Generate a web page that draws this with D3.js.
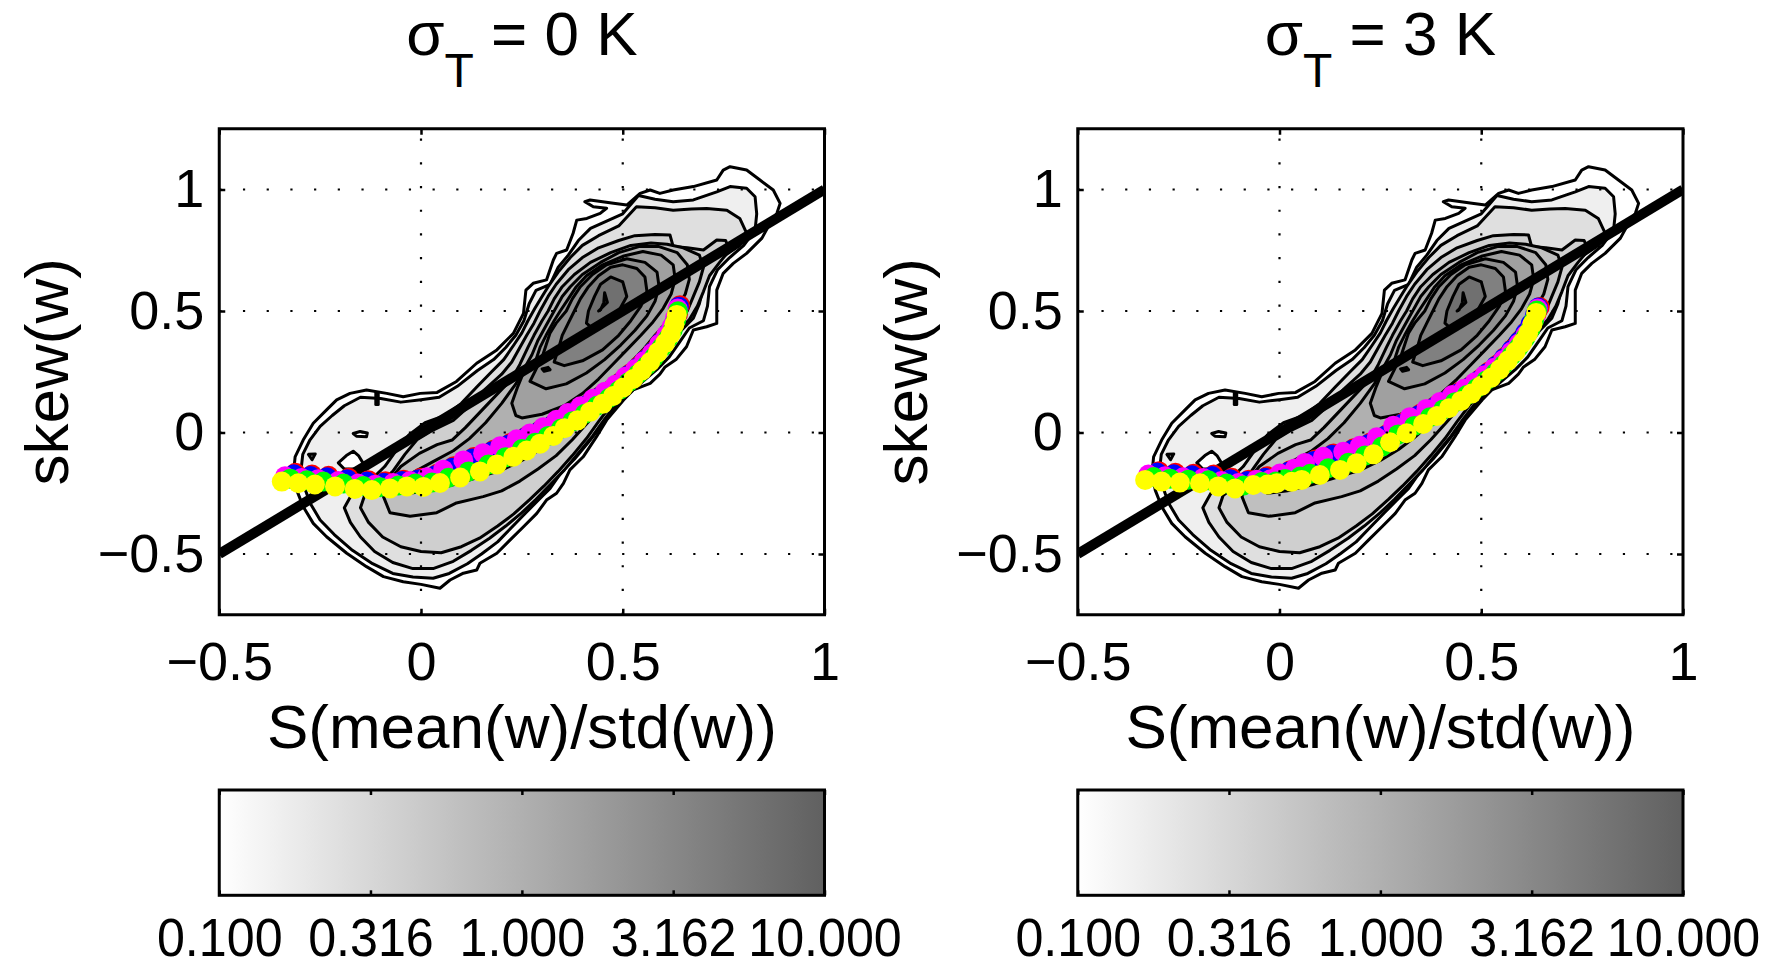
<!DOCTYPE html>
<html lang="en">
<head>
<meta charset="UTF-8">
<title>skew(w) vs S(mean(w)/std(w))</title>
<script src="https://d3js.org/d3.v7.min.js"></script>
<style>
  body { margin: 0; background: #fff; }
  svg { display: block; }
</style>
</head>
<body>
<script>
// ---- axes / labels ----
const xTicks = [-0.5, 0, 0.5, 1];
const xTickLabels = ["\u22120.5", "0", "0.5", "1"];
const yTicks = [-0.5, 0, 0.5, 1];
const yTickLabels = ["\u22120.5", "0", "0.5", "1"];
const cbTicks = [0.1, 0.316, 1, 3.162, 10];
const cbTickLabels = ["0.100", "0.316", "1.000", "3.162", "10.000"];
const panelTitles = ["0", "3"];

// reference line skew = S
const refLine = [[-0.5, -0.5], [1, 1]];

// ---- filled contour levels (log10 density) and their outlines ----
const levels = [-1, -0.8, -0.6, -0.4, -0.2, 0, 0.2, 0.4, 0.6, 0.8];

const c1 = [[0.766,1.094],[0.807,1.080],[0.840,1.039],[0.873,0.998],[0.890,0.943],[0.882,0.902],[0.865,0.861],[0.845,0.800],[0.807,0.737],[0.774,0.696],[0.749,0.655],[0.733,0.586],[0.733,0.518],[0.733,0.449],[0.708,0.435],[0.675,0.422],[0.658,0.353],[0.632,0.300],[0.605,0.270],[0.592,0.240],[0.568,0.202],[0.526,0.175],[0.502,0.134],[0.460,0.051],[0.435,-0.017],[0.402,-0.100],[0.369,-0.154],[0.353,-0.209],[0.336,-0.250],[0.311,-0.278],[0.287,-0.333],[0.254,-0.388],[0.221,-0.442],[0.188,-0.497],[0.146,-0.538],[0.138,-0.566],[0.105,-0.579],[0.072,-0.607],[0.047,-0.641],[0.000,-0.625],[-0.044,-0.614],[-0.093,-0.593],[-0.135,-0.552],[-0.184,-0.497],[-0.234,-0.429],[-0.267,-0.374],[-0.292,-0.305],[-0.308,-0.237],[-0.316,-0.168],[-0.312,-0.100],[-0.292,-0.031],[-0.267,0.038],[-0.234,0.093],[-0.209,0.134],[-0.176,0.161],[-0.135,0.175],[-0.085,0.161],[-0.044,0.147],[-0.002,0.161],[0.040,0.165],[0.088,0.210],[0.138,0.285],[0.188,0.340],[0.229,0.408],[0.254,0.490],[0.260,0.586],[0.278,0.614],[0.311,0.628],[0.328,0.710],[0.336,0.737],[0.361,0.751],[0.377,0.820],[0.386,0.874],[0.411,0.881],[0.444,0.902],[0.460,0.923],[0.427,0.929],[0.406,0.950],[0.419,0.957],[0.477,0.943],[0.510,0.936],[0.543,0.984],[0.568,0.998],[0.592,0.984],[0.625,0.998],[0.675,1.012],[0.733,1.039],[0.749,1.080]];
const c2 = [[0.766,1.012],[0.807,1.005],[0.828,0.970],[0.832,0.900],[0.828,0.833],[0.800,0.770],[0.765,0.720],[0.735,0.670],[0.715,0.600],[0.710,0.520],[0.700,0.460],[0.665,0.430],[0.640,0.370],[0.615,0.310],[0.585,0.260],[0.550,0.210],[0.515,0.160],[0.480,0.100],[0.450,0.035],[0.415,-0.040],[0.380,-0.110],[0.345,-0.170],[0.320,-0.230],[0.290,-0.280],[0.260,-0.330],[0.225,-0.390],[0.190,-0.450],[0.150,-0.500],[0.115,-0.540],[0.070,-0.580],[0.030,-0.600],[-0.020,-0.595],[-0.070,-0.580],[-0.120,-0.540],[-0.170,-0.485],[-0.215,-0.420],[-0.250,-0.360],[-0.275,-0.290],[-0.290,-0.220],[-0.297,-0.150],[-0.293,-0.090],[-0.275,-0.030],[-0.250,0.025],[-0.220,0.070],[-0.190,0.110],[-0.150,0.145],[-0.100,0.140],[-0.050,0.125],[0.000,0.135],[0.045,0.145],[0.090,0.190],[0.140,0.255],[0.180,0.300],[0.210,0.350],[0.235,0.400],[0.255,0.460],[0.268,0.530],[0.285,0.585],[0.320,0.610],[0.340,0.680],[0.365,0.730],[0.390,0.790],[0.420,0.840],[0.460,0.870],[0.500,0.900],[0.539,0.975],[0.580,0.960],[0.625,0.950],[0.675,0.957],[0.733,0.990]];
const c3 = [[0.758,0.915],[0.790,0.881],[0.807,0.820],[0.790,0.770],[0.750,0.725],[0.720,0.670],[0.700,0.600],[0.690,0.530],[0.675,0.470],[0.645,0.420],[0.620,0.360],[0.590,0.300],[0.555,0.245],[0.520,0.185],[0.485,0.120],[0.455,0.055],[0.425,-0.015],[0.390,-0.085],[0.355,-0.155],[0.320,-0.215],[0.285,-0.275],[0.250,-0.330],[0.210,-0.385],[0.170,-0.435],[0.125,-0.485],[0.080,-0.530],[0.030,-0.560],[-0.020,-0.560],[-0.070,-0.535],[-0.115,-0.490],[-0.150,-0.430],[-0.175,-0.370],[-0.190,-0.310],[-0.170,-0.250],[-0.130,-0.205],[-0.090,-0.140],[-0.060,-0.070],[-0.030,-0.010],[0.010,0.040],[0.060,0.070],[0.100,0.120],[0.140,0.190],[0.175,0.250],[0.205,0.300],[0.230,0.360],[0.250,0.410],[0.265,0.460],[0.282,0.510],[0.300,0.560],[0.315,0.600],[0.340,0.660],[0.370,0.720],[0.400,0.770],[0.440,0.810],[0.490,0.850],[0.534,0.929],[0.580,0.925],[0.625,0.915],[0.670,0.920],[0.708,0.922]];
const c4 = [[0.700,0.751],[0.733,0.792],[0.755,0.790],[0.765,0.750],[0.740,0.700],[0.715,0.645],[0.700,0.580],[0.685,0.520],[0.665,0.465],[0.635,0.410],[0.605,0.350],[0.575,0.290],[0.540,0.235],[0.505,0.175],[0.470,0.110],[0.440,0.045],[0.410,-0.025],[0.375,-0.095],[0.340,-0.160],[0.305,-0.220],[0.270,-0.275],[0.230,-0.335],[0.190,-0.385],[0.145,-0.435],[0.100,-0.470],[0.050,-0.495],[0.000,-0.490],[-0.050,-0.470],[-0.095,-0.430],[-0.130,-0.370],[-0.150,-0.310],[-0.140,-0.260],[-0.110,-0.220],[-0.070,-0.160],[-0.040,-0.090],[-0.010,-0.030],[0.030,0.010],[0.080,0.050],[0.120,0.110],[0.160,0.180],[0.200,0.240],[0.225,0.290],[0.245,0.350],[0.262,0.400],[0.280,0.450],[0.295,0.500],[0.315,0.560],[0.335,0.610],[0.365,0.670],[0.400,0.720],[0.440,0.760],[0.490,0.790],[0.530,0.810],[0.580,0.815],[0.617,0.813],[0.625,0.765],[0.660,0.760]];
const c5 = [[0.650,0.760],[0.690,0.730],[0.700,0.680],[0.690,0.620],[0.675,0.560],[0.660,0.500],[0.640,0.450],[0.610,0.395],[0.580,0.335],[0.550,0.280],[0.515,0.220],[0.480,0.160],[0.445,0.100],[0.410,0.035],[0.375,-0.030],[0.335,-0.095],[0.290,-0.150],[0.245,-0.200],[0.200,-0.240],[0.154,-0.264],[0.088,-0.290],[0.039,-0.330],[-0.027,-0.345],[-0.077,-0.330],[-0.093,-0.264],[-0.075,-0.190],[-0.050,-0.140],[-0.004,-0.086],[0.040,-0.050],[0.077,-0.031],[0.110,0.020],[0.150,0.090],[0.190,0.160],[0.225,0.220],[0.245,0.280],[0.265,0.350],[0.280,0.400],[0.300,0.460],[0.315,0.500],[0.330,0.550],[0.350,0.600],[0.380,0.650],[0.420,0.700],[0.470,0.740],[0.520,0.770],[0.570,0.780],[0.610,0.775]];
const c6 = [[0.590,0.765],[0.635,0.740],[0.660,0.690],[0.665,0.630],[0.655,0.570],[0.635,0.510],[0.610,0.455],[0.580,0.400],[0.550,0.340],[0.515,0.280],[0.480,0.220],[0.445,0.160],[0.410,0.100],[0.375,0.040],[0.335,-0.020],[0.295,-0.070],[0.250,-0.115],[0.200,-0.155],[0.140,-0.185],[0.080,-0.215],[0.020,-0.240],[-0.030,-0.250],[-0.050,-0.210],[-0.020,-0.165],[0.030,-0.120],[0.080,-0.075],[0.120,-0.025],[0.160,0.040],[0.200,0.120],[0.235,0.200],[0.255,0.260],[0.275,0.320],[0.290,0.380],[0.310,0.440],[0.330,0.500],[0.350,0.560],[0.370,0.600],[0.400,0.650],[0.445,0.700],[0.490,0.740],[0.540,0.765]];
const c7 = [[0.550,0.745],[0.595,0.730],[0.625,0.690],[0.630,0.630],[0.620,0.570],[0.600,0.510],[0.575,0.455],[0.545,0.400],[0.510,0.340],[0.475,0.280],[0.440,0.220],[0.400,0.160],[0.355,0.110],[0.300,0.075],[0.250,0.060],[0.235,0.070],[0.225,0.120],[0.240,0.190],[0.255,0.250],[0.285,0.300],[0.295,0.350],[0.310,0.400],[0.330,0.460],[0.345,0.500],[0.365,0.550],[0.385,0.600],[0.410,0.645],[0.450,0.690],[0.500,0.725]];
const c8 = [[0.510,0.715],[0.555,0.700],[0.585,0.660],[0.590,0.600],[0.580,0.540],[0.560,0.480],[0.530,0.420],[0.495,0.360],[0.455,0.300],[0.410,0.245],[0.360,0.200],[0.310,0.180],[0.270,0.210],[0.285,0.260],[0.300,0.310],[0.310,0.360],[0.320,0.410],[0.335,0.450],[0.360,0.500],[0.375,0.550],[0.395,0.600],[0.425,0.650],[0.460,0.690]];
const c9 = [[0.500,0.690],[0.535,0.675],[0.555,0.640],[0.560,0.580],[0.545,0.520],[0.520,0.460],[0.490,0.400],[0.450,0.340],[0.400,0.295],[0.355,0.275],[0.330,0.290],[0.340,0.340],[0.350,0.400],[0.365,0.450],[0.380,0.500],[0.395,0.550],[0.415,0.600],[0.440,0.645],[0.470,0.680]];
const c10 = [[0.470,0.640],[0.500,0.620],[0.510,0.560],[0.490,0.500],[0.460,0.450],[0.430,0.420],[0.410,0.450],[0.415,0.500],[0.430,0.560],[0.445,0.610]];
const contourOutlines = [c1, c2, c3, c4, c5, c6, c7, c8, c9, c10];

// small closed contours (islands) and the level they fill with
const islands = [
  { level: -1, pts: [[-0.205,-0.125],[-0.185,-0.095],[-0.168,-0.077],[-0.155,-0.095],[-0.142,-0.130],[-0.160,-0.150],[-0.190,-0.150]] },
  { level: -1, pts: [[-0.168,-0.004],[-0.151,0.004],[-0.133,-0.002],[-0.135,-0.017],[-0.160,-0.015]] },
  { level: -1, pts: [[-0.279,-0.090],[-0.262,-0.088],[-0.270,-0.112]] },
  { level: -0.8, pts: [[-0.112,0.165],[-0.106,0.165],[-0.106,0.115],[-0.112,0.115]] },
  { level: 0.4, pts: [[0.300,0.262],[0.315,0.268],[0.320,0.258],[0.305,0.252]] },
  { level: 0.8, pts: [[0.455,0.575],[0.462,0.535],[0.440,0.500],[0.445,0.505],[0.453,0.535]] }
];

// ---- binned curves, sigma_T = 0 K ----
const yellowX0 = [-0.345,-0.304,-0.263,-0.213,-0.164,-0.122,-0.077,-0.035,0.006,0.047,0.097,0.146,0.188,0.229,0.262,0.295,0.328,0.356,0.388,0.419,0.450,0.476,0.501,0.526,0.548,0.568,0.587,0.605,0.619,0.628,0.634];
const yellowY0 = [-0.202,-0.209,-0.214,-0.222,-0.232,-0.237,-0.230,-0.222,-0.224,-0.208,-0.185,-0.160,-0.132,-0.100,-0.074,-0.046,-0.014,0.018,0.050,0.085,0.118,0.150,0.185,0.220,0.255,0.290,0.330,0.368,0.405,0.445,0.484];
const greenX0 = [-0.324,-0.283,-0.242,-0.192,-0.143,-0.101,-0.056,-0.014,0.027,0.068,0.118,0.167,0.209,0.250,0.283,0.315,0.347,0.375,0.406,0.436,0.466,0.490,0.514,0.538,0.559,0.578,0.596,0.612,0.624,0.632,0.637];
const greenY0 = [-0.190,-0.197,-0.202,-0.210,-0.220,-0.225,-0.218,-0.210,-0.206,-0.186,-0.160,-0.132,-0.102,-0.068,-0.042,-0.014,0.016,0.046,0.077,0.110,0.142,0.173,0.207,0.241,0.275,0.310,0.349,0.386,0.422,0.461,0.499];
const magentaX0 = [-0.337,-0.296,-0.255,-0.205,-0.156,-0.114,-0.069,-0.027,0.014,0.055,0.105,0.154,0.196,0.237,0.270,0.303,0.336,0.364,0.395,0.426,0.456,0.482,0.506,0.531,0.552,0.572,0.590,0.607,0.621,0.630,0.636];
const magentaY0 = [-0.180,-0.187,-0.192,-0.200,-0.210,-0.215,-0.208,-0.200,-0.184,-0.153,-0.115,-0.085,-0.057,-0.028,-0.004,0.022,0.052,0.080,0.108,0.139,0.168,0.197,0.229,0.261,0.293,0.326,0.364,0.400,0.435,0.473,0.510];
const blueX0 = [-0.315,-0.274,-0.233,-0.183,-0.134,-0.092,-0.047,-0.005,0.036,0.077,0.127,0.176,0.218,0.259,0.292,0.325,0.358,0.384,0.414,0.443,0.472,0.494,0.515,0.538,0.558,0.577,0.595,0.612,0.625,0.634,0.639];
const blueY0 = [-0.172,-0.179,-0.184,-0.192,-0.202,-0.207,-0.200,-0.192,-0.176,-0.145,-0.107,-0.077,-0.049,-0.020,0.004,0.030,0.060,0.088,0.116,0.147,0.176,0.205,0.237,0.269,0.301,0.334,0.372,0.408,0.443,0.481,0.518];
const redX0 = [-0.311,-0.270,-0.229,-0.179,-0.130,-0.088,-0.043,-0.001,0.040,0.081,0.131,0.180,0.222,0.263,0.296,0.329,0.362,0.388,0.418,0.447,0.476,0.497,0.518,0.541,0.561,0.580,0.598,0.615,0.628,0.637,0.642];
const redY0 = [-0.166,-0.173,-0.178,-0.186,-0.196,-0.201,-0.194,-0.186,-0.170,-0.139,-0.101,-0.071,-0.043,-0.014,0.010,0.036,0.066,0.094,0.122,0.153,0.182,0.211,0.243,0.275,0.307,0.340,0.378,0.414,0.449,0.487,0.524];

// ---- binned curves, sigma_T = 3 K ----
const yellowX3 = [-0.333,-0.292,-0.247,-0.197,-0.152,-0.110,-0.065,-0.030,-0.007,0.030,0.055,0.100,0.150,0.191,0.233,0.274,0.315,0.356,0.390,0.420,0.450,0.476,0.500,0.524,0.546,0.566,0.585,0.602,0.616,0.627,0.636];
const yellowY3 = [-0.195,-0.202,-0.206,-0.209,-0.222,-0.230,-0.216,-0.214,-0.209,-0.203,-0.195,-0.175,-0.154,-0.127,-0.090,-0.040,-0.003,0.035,0.068,0.100,0.130,0.160,0.192,0.225,0.260,0.296,0.332,0.370,0.408,0.447,0.492];
const greenX3 = [-0.312,-0.271,-0.226,-0.176,-0.131,-0.089,-0.044,-0.009,0.014,0.051,0.076,0.121,0.171,0.212,0.254,0.294,0.334,0.373,0.406,0.435,0.464,0.489,0.512,0.535,0.556,0.575,0.593,0.609,0.622,0.631,0.638];
const greenY3 = [-0.183,-0.190,-0.194,-0.197,-0.210,-0.218,-0.204,-0.202,-0.191,-0.181,-0.170,-0.147,-0.124,-0.095,-0.058,-0.008,0.027,0.063,0.095,0.125,0.154,0.183,0.214,0.246,0.280,0.316,0.351,0.388,0.425,0.463,0.502];
const magentaX3 = [-0.325,-0.284,-0.239,-0.189,-0.144,-0.102,-0.057,-0.022,0.001,0.038,0.063,0.108,0.158,0.199,0.241,0.282,0.323,0.364,0.398,0.428,0.458,0.484,0.508,0.532,0.554,0.574,0.593,0.610,0.624,0.634,0.640];
const magentaY3 = [-0.173,-0.180,-0.184,-0.187,-0.200,-0.208,-0.194,-0.192,-0.169,-0.148,-0.125,-0.100,-0.079,-0.055,-0.020,0.028,0.063,0.097,0.126,0.154,0.180,0.207,0.236,0.266,0.298,0.332,0.366,0.402,0.438,0.475,0.510];
const blueX3 = [-0.303,-0.262,-0.217,-0.167,-0.122,-0.080,-0.035,0.000,0.023,0.060,0.085,0.130,0.180,0.221,0.263,0.304,0.345,0.384,0.416,0.443,0.472,0.494,0.514,0.536,0.556,0.575,0.593,0.609,0.622,0.633,0.641];
const blueY3 = [-0.165,-0.172,-0.176,-0.179,-0.192,-0.200,-0.186,-0.184,-0.161,-0.140,-0.117,-0.092,-0.071,-0.047,-0.012,0.036,0.071,0.105,0.134,0.162,0.188,0.215,0.244,0.274,0.306,0.340,0.374,0.410,0.446,0.483,0.514];
const redX3 = [-0.299,-0.258,-0.213,-0.163,-0.118,-0.076,-0.031,0.004,0.027,0.064,0.089,0.134,0.184,0.225,0.267,0.308,0.349,0.388,0.420,0.447,0.476,0.498,0.518,0.540,0.560,0.579,0.597,0.613,0.626,0.637,0.645];
const redY3 = [-0.159,-0.166,-0.170,-0.173,-0.186,-0.194,-0.180,-0.178,-0.155,-0.134,-0.111,-0.086,-0.065,-0.041,-0.006,0.042,0.077,0.111,0.140,0.168,0.194,0.221,0.250,0.280,0.312,0.346,0.380,0.416,0.452,0.489,0.516];

const seriesColors = ["#ff0000", "#0000ff", "#ff00ff", "#00ff00", "#ffff00"];
const panelSeries = [
  [[redX0, redY0], [blueX0, blueY0], [magentaX0, magentaY0], [greenX0, greenY0], [yellowX0, yellowY0]],
  [[redX3, redY3], [blueX3, blueY3], [magentaX3, magentaY3], [greenX3, greenY3], [yellowX3, yellowY3]]
];

// ---- layout ----
const width = 1777, height = 967;
const font = "'Liberation Sans', Arial, Helvetica, sans-serif";
const panelLeft = [219.25, 1077.75];
const plotTop = 128.75, plotW = 605.25, plotH = 486;
const cbTop = 790, cbH = 105.3;

const svg = d3.select("body").append("svg")
  .attr("width", width)
  .attr("height", height)
  .attr("font-family", font);

const gray = d3.scaleLinear().domain([-1, 1]).range(["#ffffff", "#606060"]);

// colorbar gradient
const grad = svg.append("defs").append("linearGradient").attr("id", "cbgrad");
d3.range(0, 1.0001, 0.1).forEach(t => {
  grad.append("stop").attr("offset", t).attr("stop-color", gray(-1 + 2 * t));
});

panelTitles.forEach((tval, pi) => {
  const x = d3.scaleLinear().domain([-0.5, 1]).range([0, plotW]);
  const y = d3.scaleLinear().domain([-0.75, 1.25]).range([plotH, 0]);
  const g = svg.append("g").attr("transform", `translate(${panelLeft[pi]},${plotTop})`);

  g.append("clipPath").attr("id", "clip" + pi)
    .append("rect").attr("width", plotW).attr("height", plotH);

  const plot = g.append("g").attr("clip-path", `url(#clip${pi})`);

  const shape = d3.line().x(d => x(d[0])).y(d => y(d[1])).curve(d3.curveLinearClosed);

  // filled contours, lowest level first
  contourOutlines.forEach((pts, i) => {
    plot.append("path")
      .attr("d", shape(pts))
      .attr("fill", gray(levels[i]))
      .attr("stroke", "#000")
      .attr("stroke-width", 3)
      .attr("stroke-linejoin", "round");
  });
  islands.forEach(isl => {
    plot.append("path")
      .attr("d", shape(isl.pts))
      .attr("fill", gray(isl.level))
      .attr("stroke", "#000")
      .attr("stroke-width", 3)
      .attr("stroke-linejoin", "round");
  });

  // 1:1 line
  plot.append("line")
    .attr("x1", x(refLine[0][0])).attr("y1", y(refLine[0][1]))
    .attr("x2", x(refLine[1][0])).attr("y2", y(refLine[1][1]))
    .attr("stroke", "#000").attr("stroke-width", 10);

  // binned curves
  panelSeries[pi].forEach(([sx, sy], si) => {
    plot.append("g").selectAll("circle")
      .data(sx.map((v, k) => [v, sy[k]]))
      .join("circle")
      .attr("cx", d => x(d[0]))
      .attr("cy", d => y(d[1]))
      .attr("r", 10)
      .attr("fill", seriesColors[si]);
  });

  // dotted grid on top
  const grid = g.append("g").attr("stroke", "#000").attr("stroke-width", 2.2)
    .attr("stroke-dasharray", "2.2,21.5");
  xTicks.slice(1, -1).forEach(v => {
    grid.append("line").attr("x1", x(v)).attr("x2", x(v)).attr("y1", plotH).attr("y2", 0);
  });
  yTicks.forEach(v => {
    grid.append("line").attr("x1", 0).attr("x2", plotW).attr("y1", y(v)).attr("y2", y(v));
  });

  // axes
  const styleAxis = (sel, size) => {
    sel.select(".domain").remove();
    sel.selectAll(".tick line").attr("stroke-width", 2.5);
    sel.attr("font-family", font).attr("font-size", size);
    sel.selectAll("text").attr("fill", "#000");
  };
  g.append("g").attr("transform", `translate(0,${plotH})`)
    .call(d3.axisBottom(x).tickValues(xTicks).tickSize(-6).tickPadding(27)
      .tickFormat((d, i) => xTickLabels[i]))
    .call(styleAxis, 54);
  g.append("g")
    .call(d3.axisTop(x).tickValues(xTicks).tickSize(-6).tickFormat(""))
    .call(styleAxis, 54);
  g.append("g")
    .call(d3.axisLeft(y).tickValues(yTicks).tickSize(-6).tickPadding(15)
      .tickFormat((d, i) => yTickLabels[i]))
    .call(styleAxis, 54);
  g.append("g").attr("transform", `translate(${plotW},0)`)
    .call(d3.axisRight(y).tickValues(yTicks).tickSize(-6).tickFormat(""))
    .call(styleAxis, 54);

  g.append("rect").attr("width", plotW).attr("height", plotH)
    .attr("fill", "none").attr("stroke", "#000").attr("stroke-width", 3);

  // labels
  const title = svg.append("text")
    .attr("x", panelLeft[pi] + plotW / 2).attr("y", 55)
    .attr("text-anchor", "middle").attr("font-size", 62);
  title.append("tspan").text("\u03c3");
  title.append("tspan").attr("dy", 32).attr("font-size", 48).text("T");
  title.append("tspan").attr("dy", -32).text(` = ${tval} K`);

  svg.append("text")
    .attr("x", panelLeft[pi] + plotW / 2).attr("y", 748)
    .attr("text-anchor", "middle").attr("font-size", 62)
    .text("S(mean(w)/std(w))");

  svg.append("text")
    .attr("transform", `translate(${panelLeft[pi] - 151},${plotTop + plotH / 2}) rotate(-90)`)
    .attr("text-anchor", "middle").attr("font-size", 62)
    .text("skew(w)");

  // colorbar
  const cb = svg.append("g").attr("transform", `translate(${panelLeft[pi]},${cbTop})`);
  const cbx = d3.scaleLog().domain([0.1, 10]).range([0, plotW]);
  cb.append("rect").attr("width", plotW).attr("height", cbH).attr("fill", "url(#cbgrad)");
  cb.append("g").attr("transform", `translate(0,${cbH})`)
    .call(d3.axisBottom(cbx).tickValues(cbTicks).tickSize(-5).tickPadding(22)
      .tickFormat((d, i) => cbTickLabels[i]))
    .call(styleAxis, 54)
    .call(sel => sel.selectAll("text").attr("transform", "scale(0.93,1)"));
  cb.append("g")
    .call(d3.axisTop(cbx).tickValues(cbTicks).tickSize(-5).tickFormat(""))
    .call(styleAxis, 54);
  cb.append("rect").attr("width", plotW).attr("height", cbH)
    .attr("fill", "none").attr("stroke", "#000").attr("stroke-width", 3);
});
</script>
</body>
</html>
